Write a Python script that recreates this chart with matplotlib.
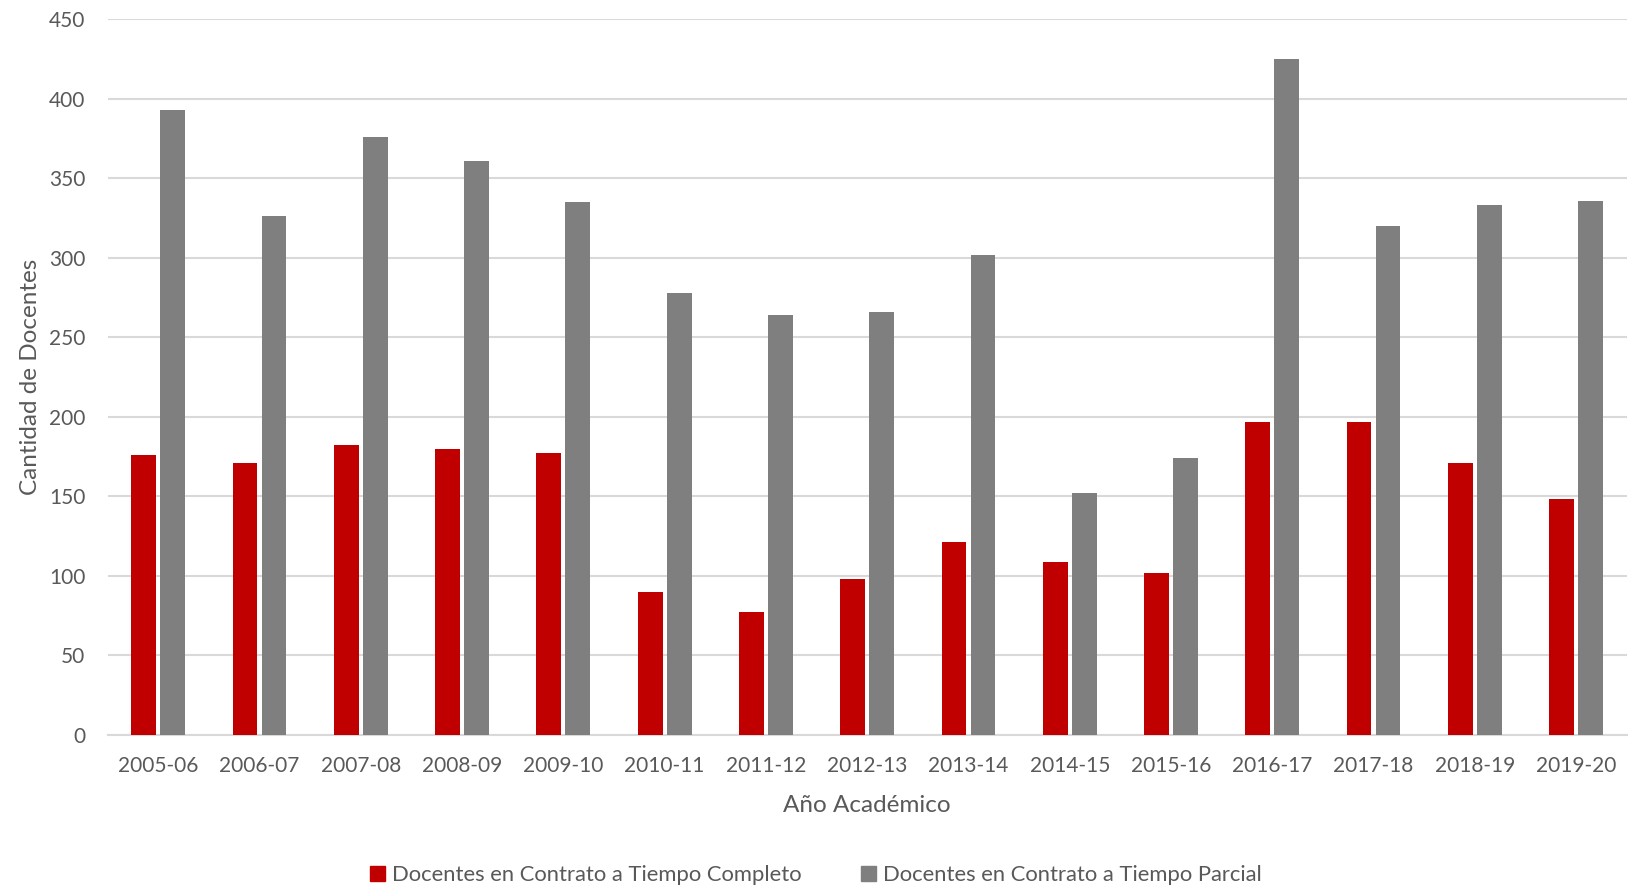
import matplotlib.pyplot as plt
import numpy as np
from matplotlib.patches import Patch

# años académicos y cantidad de docentes por tipo de contrato
anios = ["2005-06", "2006-07", "2007-08", "2008-09", "2009-10", "2010-11", "2011-12",
         "2012-13", "2013-14", "2014-15", "2015-16", "2016-17", "2017-18", "2018-19", "2019-20"]
tiempo_completo = [176, 171, 182, 180, 177, 90, 77, 98, 121, 109, 102, 197, 197, 171, 148]
tiempo_parcial = [393, 326, 376, 361, 335, 278, 264, 266, 302, 152, 174, 425, 320, 333, 336]

rojo = "#c00000"
gris = "#7f7f7f"
texto = "#595959"

plt.rcParams['font.family'] = ['Lato', 'DejaVu Sans']

fig = plt.figure(figsize=(16.31, 8.91), dpi=100)
ax = fig.add_axes([0.066, 0.1753, 0.9314, 0.803])

x = np.arange(len(anios))
ancho = 0.245
ax.bar(x - 0.143, tiempo_completo, ancho, color=rojo, zorder=3)
ax.bar(x + 0.143, tiempo_parcial, ancho, color=gris, zorder=3)

ax.set_xlim(-0.5, len(anios) - 0.5)
ax.set_ylim(0, 450)
ax.set_yticks(range(0, 451, 50))
ax.set_xticks(x)
ax.set_xticklabels(anios)
ax.yaxis.grid(True, color="#d9d9d9", linewidth=1.5, zorder=0)
ax.set_axisbelow(True)
for s in ["top", "right", "left"]:
    ax.spines[s].set_visible(False)
ax.spines["bottom"].set_color("#d9d9d9")
ax.spines["bottom"].set_linewidth(1.5)
ax.tick_params(axis="both", length=0, labelsize=15, colors=texto)
ax.tick_params(axis="x", pad=15)
ax.tick_params(axis="y", pad=16)

ax.set_xlabel("Año Académico", fontsize=17.5, color=texto, labelpad=14)
ax.set_ylabel("Cantidad de Docentes", fontsize=17.5, color=texto, labelpad=6)

handles = [Patch(color=rojo, label="Docentes en Contrato a Tiempo Completo"),
           Patch(color=gris, label="Docentes en Contrato a Tiempo Parcial")]
fig.legend(handles=handles, loc="center", bbox_to_anchor=(0.5, 0.018), ncol=2,
           frameon=False, fontsize=15.8, labelcolor=texto, handlelength=0.7,
           handleheight=0.7, handletextpad=0.3, columnspacing=2.7)

fig.savefig("out.png", dpi=100)
